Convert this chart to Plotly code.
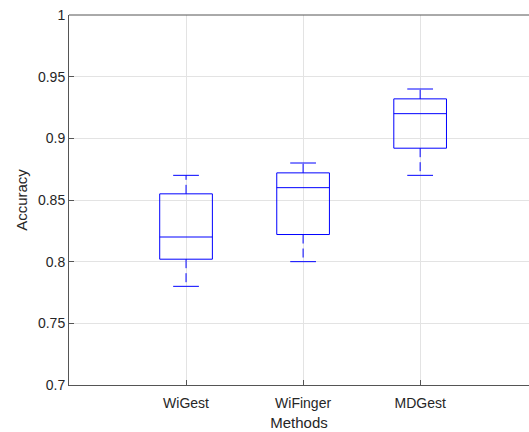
import plotly.graph_objects as go

methods = ["WiGest", "WiFinger", "MDGest"]
lower = [0.78, 0.80, 0.87]
q1 = [0.802, 0.822, 0.892]
median = [0.820, 0.860, 0.920]
q3 = [0.855, 0.872, 0.932]
upper = [0.870, 0.880, 0.940]

yticks = [0.7, 0.75, 0.8, 0.85, 0.9, 0.95, 1]
ytick_text = ["0.7", "0.75", "0.8", "0.85", "0.9", "0.95", "1"]

BOXW = 0.45
CAPW = 0.22
BLUE = "#0000ff"

fig = go.Figure()
for i, m in enumerate(methods):
    x = i + 1
    fig.add_trace(go.Scatter(
        x=[x - BOXW/2, x + BOXW/2, x + BOXW/2, x - BOXW/2, x - BOXW/2],
        y=[q1[i], q1[i], q3[i], q3[i], q1[i]],
        mode="lines", line=dict(color=BLUE, width=1), hoverinfo="skip", showlegend=False))
    fig.add_trace(go.Scatter(
        x=[x - BOXW/2, x + BOXW/2], y=[median[i], median[i]],
        mode="lines", line=dict(color=BLUE, width=1), showlegend=False))
    fig.add_trace(go.Scatter(
        x=[x, x], y=[q3[i], upper[i]],
        mode="lines", line=dict(color=BLUE, width=1, dash="9px,5px"), showlegend=False))
    fig.add_trace(go.Scatter(
        x=[x, x], y=[q1[i], lower[i]],
        mode="lines", line=dict(color=BLUE, width=1, dash="9px,5px"), showlegend=False))
    for v in (upper[i], lower[i]):
        fig.add_trace(go.Scatter(
            x=[x - CAPW/2, x + CAPW/2], y=[v, v],
            mode="lines", line=dict(color=BLUE, width=1), showlegend=False))

axis_col = "#555555"
fig.add_shape(type="line", xref="paper", yref="paper", x0=0, x1=1, y0=1, y1=1,
              line=dict(color=axis_col, width=1), layer="above")

fig.update_layout(
    width=529, height=432,
    margin=dict(l=69, r=0, t=15, b=47),
    paper_bgcolor="white", plot_bgcolor="white",
    font=dict(family="Liberation Sans, Arial, sans-serif", size=14, color="#262626"),
    xaxis=dict(
        range=[0, 3.93], tickvals=[1, 2, 3], ticktext=methods,
        showgrid=True, gridcolor="#e3e3e3", gridwidth=1,
        showline=True, linecolor=axis_col, linewidth=1,
        ticks="inside", ticklen=5, tickcolor=axis_col,
        ticklabelstandoff=5, automargin=False,
        zeroline=False,
        title=dict(text="Methods", font=dict(size=15), standoff=7),
    ),
    yaxis=dict(
        range=[0.7, 1.0], tickvals=yticks, ticktext=ytick_text,
        showgrid=True, gridcolor="#e3e3e3", gridwidth=1,
        showline=True, linecolor=axis_col, linewidth=1,
        ticks="inside", ticklen=5, tickcolor=axis_col,
        zeroline=False, automargin=False,
        title=dict(text="Accuracy", font=dict(size=15), standoff=6),
    ),
)

fig.write_html(
    "out.html",
    config={"displayModeBar": False},
    post_script="document.documentElement.style.overflow='hidden';"
                "document.body.style.overflow='hidden';document.body.style.margin='0';",
)
